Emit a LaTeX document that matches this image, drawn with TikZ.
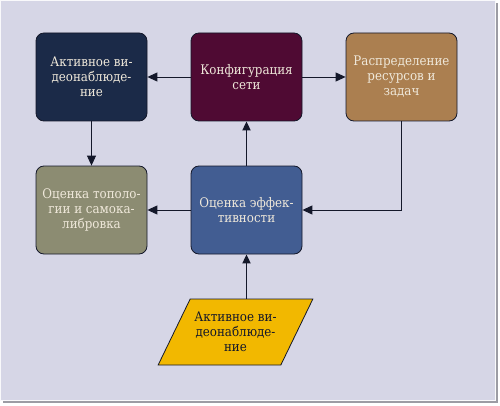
\documentclass[tikz,border=0pt]{standalone}
\usepackage{fontspec}
\setmainfont{DejaVu Serif Condensed}
\usetikzlibrary{arrows.meta,shapes.geometric,calc}
\definecolor{bgc}{HTML}{D6D6E6}
\definecolor{shadowc}{HTML}{9C9CA4}
\definecolor{edgec}{HTML}{14182A}
\definecolor{navyc}{HTML}{1B2A48}
\definecolor{maroonc}{HTML}{4F0A33}
\definecolor{brownc}{HTML}{AB7F50}
\definecolor{olivec}{HTML}{8C8C72}
\definecolor{bluec}{HTML}{425D92}
\definecolor{yellowc}{HTML}{F2B800}
\definecolor{txtc}{HTML}{EFE8DA}
\tikzset{
  box/.style={rectangle, rounded corners=8pt, draw=edgec, line width=0.8pt,
    minimum width=111pt, minimum height=88pt, align=center, text=txtc,
    font=\fontsize{13.2}{15}\selectfont},
  conn/.style={draw=edgec, line width=0.9pt, -{Triangle[length=10pt,width=9pt]}},
  thickconn/.style={conn, line width=1.8pt, -{Triangle[length=9pt,width=8pt]}},
}
\begin{document}
\begin{tikzpicture}[x=1pt,y=1pt]
\useasboundingbox (0,0) rectangle (500,405);
\fill[shadowc] (3,2) rectangle (498,402);
\fill[bgc, draw=white!85!bgc] (0,5) rectangle (495,405);
\node[box, fill=navyc] (act) at (91.5,328) {Активное ви-\\деонаблюде-\\ние};
\node[box, fill=maroonc] (conf) at (246.5,328) {Конфигурация\\сети};
\node[box, fill=brownc] (dist) at (401.5,328) {Распределение\\ресурсов и\\задач};
\node[box, fill=olivec] (topo) at (91.5,195) {Оценка тополо-\\гии и самока-\\либровка};
\node[box, fill=bluec] (eff) at (246.5,195) {Оценка эффек-\\тивности};
\node[trapezium, trapezium left angle=56, trapezium right angle=124,
  trapezium stretches=true, minimum width=155pt, minimum height=66pt,
  fill=yellowc, draw=edgec, line width=0.8pt, align=center, text=edgec,
  font=\fontsize{13.2}{15}\selectfont] (vid) at (235.5,73) {Активное ви-\\деонаблюде-\\ние};
\draw[conn] (conf.west) -- (act.east);
\draw[conn] (conf.east) -- (dist.west);
\draw[conn] (act.south) -- (topo.north);
\draw[conn] (eff.west) -- (topo.east);
\draw[thickconn] (eff.north) -- (conf.south);
\draw[conn] (dist.south) |- (eff.east);
\draw[thickconn] (vid.north -| eff.south) -- (eff.south);
\end{tikzpicture}
\end{document}
